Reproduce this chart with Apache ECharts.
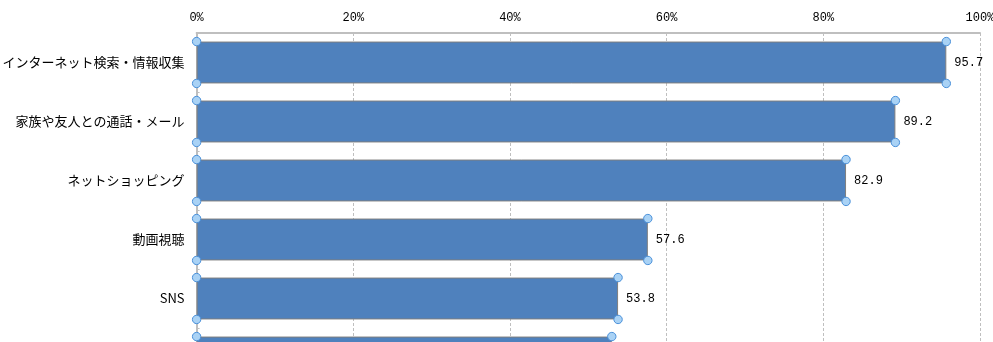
<!DOCTYPE html>
<html>
<head>
<meta charset="utf-8">
<script src="https://cdn.jsdelivr.net/npm/echarts@6/dist/echarts.min.js"></script>
<style>
html,body{margin:0;padding:0;background:#fff;}
#chart{width:993px;height:342px;}
</style>
</head>
<body>
<div id="chart"></div>
<script>
const categories = ['インターネット検索・情報収集','家族や友人との通話・メール','ネットショッピング','動画視聴','SNS','電子書籍'];
const values = [95.7, 89.2, 82.9, 57.6, 53.8, 53.0];
const axisMin = 0, axisMax = 100, axisStep = 20;

const chart = echarts.init(document.getElementById('chart'));
const gapRatio = 0.29;
chart.setOption({
  animation: false,
  grid: { left: 196.6, right: 13, top: 33, height: 354, containLabel: false, outerBoundsMode: 'none' },
  xAxis: {
    type: 'value', position: 'top', min: axisMin, max: axisMax, interval: axisStep,
    axisLabel: { formatter: '{value}%', color: '#000', fontSize: 12, fontFamily: 'Liberation Mono', margin: 9 },
    axisLine: { show: true, lineStyle: { color: '#BFBFBF', width: 2 } },
    axisTick: { show: false },
    splitLine: { show: true, lineStyle: { color: '#BFBFBF', type: [3, 2], width: 1 } }
  },
  yAxis: {
    type: 'category', inverse: true, data: categories,
    axisLine: { show: true, lineStyle: { color: '#BFBFBF', width: 2 } },
    axisTick: { show: true, inside: true, length: 3, lineStyle: { color: '#BFBFBF' } },
    axisLabel: { color: '#000', fontSize: 13, fontFamily: 'Noto Sans CJK JP', margin: 12 }
  },
  series: [
    {
      type: 'bar', data: values, barCategoryGap: (gapRatio * 100) + '%',
      itemStyle: { color: '#4F81BD', borderColor: '#7F7F7F', borderWidth: 1 },
      label: { show: true, position: 'right', distance: 8, color: '#000', fontSize: 12, fontFamily: 'Liberation Mono',
        formatter: p => p.value.toFixed(1) }
    },
    {
      type: 'custom', data: values.map((v, i) => [v, i]), z: 10,
      renderItem: function (params, api) {
        const v = api.value(0), i = api.value(1);
        const p0 = api.coord([0, i]);
        const p1 = api.coord([v, i]);
        const h = api.size([0, 1])[1] * (1 - gapRatio) / 2;
        const pts = [[p0[0], p0[1] - h], [p0[0], p0[1] + h], [p1[0], p1[1] - h], [p1[0], p1[1] + h]];
        return {
          type: 'group',
          children: pts.map(p => ({
            type: 'circle', shape: { cx: p[0], cy: p[1], r: 4.2 },
            style: { fill: '#A9D2F5', stroke: '#4A90D9', lineWidth: 1 }
          }))
        };
      }
    }
  ]
});
</script>
</body>
</html>
